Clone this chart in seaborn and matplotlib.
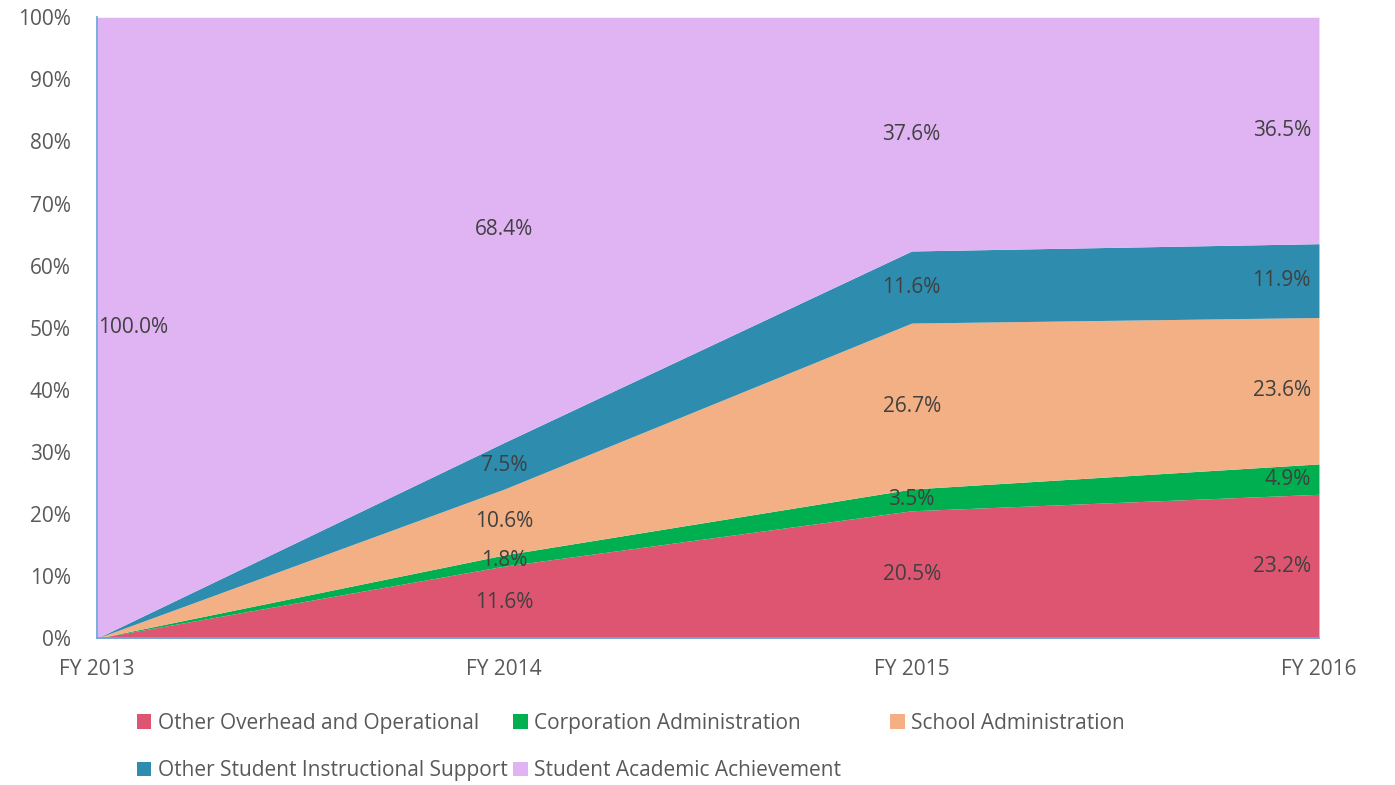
import numpy as np
import matplotlib
matplotlib.use("Agg")
import matplotlib.pyplot as plt
import seaborn as sns
from matplotlib.patches import Patch

years = ["FY 2013", "FY 2014", "FY 2015", "FY 2016"]
series = ["Other Overhead and Operational", "Corporation Administration",
          "School Administration", "Other Student Instructional Support",
          "Student Academic Achievement"]
overhead = [0.0, 11.6, 20.5, 23.2]
corp_admin = [0.0, 1.8, 3.5, 4.9]
school_admin = [0.0, 10.6, 26.7, 23.6]
instr_support = [0.0, 7.5, 11.6, 11.9]
academic = [100.0, 68.4, 37.6, 36.5]
colors = ["#DE5572", "#00B050", "#F3B084", "#2E8CAE", "#E0B3F3"]

sns.set_theme(style="white")
plt.rcParams['font.family'] = ['Open Sans', 'DejaVu Sans']
fs = 15

vals = np.array([overhead, corp_admin, school_admin, instr_support, academic])
shares = vals / vals.sum(axis=0) * 100
x = np.arange(len(years))

fig = plt.figure(figsize=(13.95, 7.85), dpi=100)
ax = fig.add_axes([0.0695, 0.187, 0.876, 0.791])
ax.stackplot(x, shares, colors=colors, linewidth=0)

ax.set_xlim(0, len(years) - 1)
ax.set_ylim(0, 100)
ax.set_yticks(np.arange(0, 101, 10))
ax.set_yticklabels([f"{v}%" for v in range(0, 101, 10)])
ax.set_xticks(x)
ax.set_xticklabels(years)
spine_c = "#6FA8DC"
for s in ["top", "right"]:
    ax.spines[s].set_visible(False)
for s in ["left", "bottom"]:
    ax.spines[s].set_color(spine_c)
    ax.spines[s].set_linewidth(1.3)
ax.tick_params(axis="both", colors=spine_c, labelcolor="#595959",
               labelsize=fs, length=6, width=1.3, direction="out")
ax.tick_params(axis="x", pad=9)
ax.tick_params(axis="y", pad=13)
ax.grid(False)

# data labels at segment midpoints
cum = np.cumsum(shares, axis=0)
for i in range(len(series)):
    for j in range(len(years)):
        if vals[i, j] <= 0:
            continue
        mid = cum[i, j] - shares[i, j] / 2
        ha = "center"
        xx = x[j]
        if j == 0:
            ha = "left"
            xx = x[j] + 0.002
        elif j == len(years) - 1:
            ha = "right"
            xx = x[j] - 0.02
        ax.text(xx, mid, f"{vals[i, j]:.1f}%", ha=ha, va="center",
                fontsize=fs, color="#404040")

# legend: three columns placed at fixed positions, row-major order
handles = [Patch(facecolor=c, edgecolor="none") for c in colors]
columns = [[0, 3], [1, 4], [2]]
col_x = [0.098, 0.368, 0.638]
for cols, cx in zip(columns, col_x):
    leg = fig.legend([handles[k] for k in cols], [series[k] for k in cols],
                     loc="upper left", bbox_to_anchor=(cx, 0.092), ncol=1,
                     frameon=False, fontsize=fs, labelcolor="#595959",
                     handlelength=0.7, handleheight=0.7, handletextpad=0.3,
                     labelspacing=1.27, borderaxespad=0, borderpad=0)

fig.savefig("out.png", dpi=100)
